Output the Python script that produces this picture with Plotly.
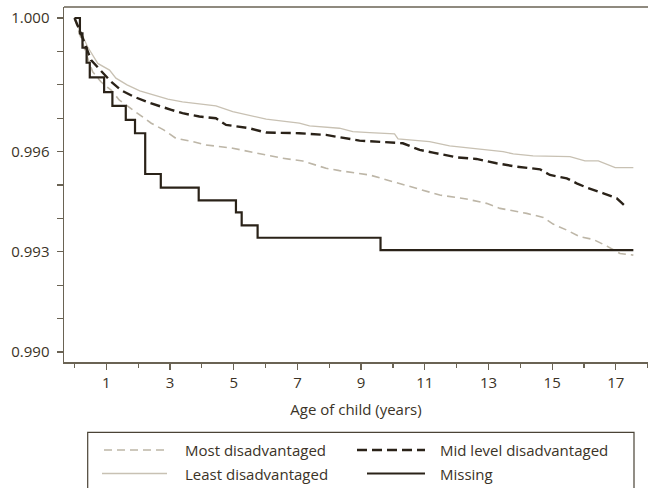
import plotly.graph_objects as go

# ---- data ----
least_age = [0, 0.2, 0.41, 0.73, 1.1, 1.3, 1.65, 2.05, 2.5, 2.93, 3.39, 4.44, 4.97, 6.02, 7.06, 7.38,
             8.32, 8.74, 9.27, 10.05, 10.16, 11.15, 11.78, 12.73, 13.46, 13.78, 14.4, 15.56, 16.03,
             16.45, 16.98, 17.55]
least_surv = [1.0, 0.99959, 0.99914, 0.99864, 0.99844, 0.9982, 0.998, 0.99782, 0.99769, 0.99757,
              0.99749, 0.99737, 0.9972, 0.99697, 0.99685, 0.99677, 0.9967, 0.9966, 0.99657, 0.99653,
              0.99638, 0.9963, 0.99617, 0.99607, 0.996, 0.99593, 0.99587, 0.99585, 0.99572, 0.99572,
              0.99552, 0.99552]

most_age = [0, 0.15, 0.36, 0.57, 0.83, 1.0, 1.15, 1.41, 1.78, 2.09, 2.41, 2.8, 3.18, 3.71, 4.13,
            4.97, 5.7, 6.54, 7.17, 7.9, 8.32, 9.27, 10.0, 10.84, 11.47, 12.31, 12.94, 13.36, 14.2,
            14.72, 15.03, 15.46, 15.87, 16.29, 16.72, 17.13, 17.55]
most_surv = [1.0, 0.99954, 0.99894, 0.99839, 0.99809, 0.99795, 0.99784, 0.99754, 0.99728, 0.99706,
             0.99685, 0.99665, 0.9964, 0.9963, 0.9962, 0.9961, 0.99597, 0.9958, 0.99572, 0.9955,
             0.99543, 0.9953, 0.9951, 0.99487, 0.9947, 0.99458, 0.99445, 0.9943, 0.99415, 0.99403,
             0.99383, 0.99365, 0.99345, 0.99337, 0.99317, 0.99295, 0.9929]

mid_age = [0, 0.2, 0.52, 0.85, 1.15, 1.46, 1.85, 2.32, 2.8, 3.04, 3.39, 3.92, 4.44, 4.76, 5.49,
           6.02, 7.06, 7.9, 8.32, 8.95, 10.31, 10.84, 11.26, 11.99, 12.62, 13.25, 13.88, 14.62,
           14.93, 15.46, 15.77, 16.09, 16.61, 17.03, 17.29]
mid_surv = [1.0, 0.99954, 0.99874, 0.99839, 0.99809, 0.99784, 0.99765, 0.99747, 0.99731, 0.99725,
            0.99715, 0.99705, 0.997, 0.9968, 0.9967, 0.99657, 0.99655, 0.9965, 0.99643, 0.99633,
            0.99625, 0.99605, 0.99597, 0.99583, 0.99578, 0.99565, 0.99555, 0.99547, 0.9953, 0.9952,
            0.99505, 0.99492, 0.99475, 0.9946, 0.99437]

missing_age = [0, 0.17, 0.25, 0.38, 0.48, 0.93, 1.19, 1.61, 1.90, 2.22, 2.71, 3.90, 5.07, 5.25,
               5.75, 9.61, 17.55]
missing_surv = [1.0, 0.99954, 0.99911, 0.99866, 0.99822, 0.99778, 0.99737, 0.99695, 0.99655,
                0.99533, 0.99492, 0.99454, 0.99418, 0.99379, 0.99342, 0.99305, 0.99305]

y_tickvals = [0.990, 0.991, 0.992, 0.993, 0.994, 0.995, 0.996, 0.997, 0.998, 0.999, 1.000]
y_ticktext = ["0.990", "", "", "0.993", "", "", "0.996", "", "", "", "1.000"]
x_major = [1, 3, 5, 7, 9, 11, 13, 15, 17]
x_minor = [0, 2, 4, 6, 8, 10, 12, 14, 16, 18]

TXT = "#3b3327"
AX = "#6a6354"
LIGHT_D = "#bdb6a7"
LIGHT_S = "#c8c1b3"
DARK = "#2a2218"
FONT = "Open Sans"

fig = go.Figure()
fig.add_trace(go.Scatter(x=least_age, y=least_surv, mode="lines", name="Least disadvantaged",
                         line=dict(color=LIGHT_S, width=1.3)))
fig.add_trace(go.Scatter(x=most_age, y=most_surv, mode="lines", name="Most disadvantaged",
                         line=dict(color=LIGHT_D, width=1.6, dash="8px,5px")))
fig.add_trace(go.Scatter(x=mid_age, y=mid_surv, mode="lines", name="Mid level disadvantaged",
                         line=dict(color=DARK, width=2.4, dash="10px,5px")))
fig.add_trace(go.Scatter(x=missing_age, y=missing_surv, mode="lines", name="Missing",
                         line=dict(color=DARK, width=2.2, shape="hv")))

W, H = 648, 488
L, R, T, B = 64, 0, 7, 126
pw, ph = W - L - R, H - T - B


def px(x):
    return (x - L) / pw


def py(y):
    return (H - B - y) / ph


shapes = [
    # top frame line of the plot area
    dict(type="line", xref="paper", yref="paper", x0=0, x1=1, y0=1, y1=1,
         line=dict(color=AX, width=1.5)),
    # legend frame
    dict(type="rect", xref="paper", yref="paper", x0=px(87.7), x1=px(634),
         y0=py(432.3), y1=py(540), line=dict(color="#4a4336", width=1.2),
         fillcolor="rgba(0,0,0,0)"),
]
annotations = []
legend_items = [
    ("Most disadvantaged", LIGHT_D, 1.6, "8px,5px", 104, 166, 183, 450),
    ("Least disadvantaged", LIGHT_S, 1.3, "solid", 102, 167, 183, 473.5),
    ("Mid level disadvantaged", DARK, 2.4, "10px,5px", 357, 425, 438, 450),
    ("Missing", DARK, 2.2, "solid", 367, 425, 438, 473.5),
]
for name, col, w, dash, sx0, sx1, tx, yy in legend_items:
    shapes.append(dict(type="line", xref="paper", yref="paper", x0=px(sx0), x1=px(sx1),
                       y0=py(yy), y1=py(yy), line=dict(color=col, width=w, dash=dash)))
    annotations.append(dict(text=name, xref="paper", yref="paper", x=px(tx), y=py(yy),
                            xanchor="left", yanchor="middle", showarrow=False,
                            font=dict(family=FONT, size=15, color=TXT)))

fig.update_layout(
    width=W, height=H,
    margin=dict(l=L, r=R, t=T, b=B, autoexpand=False),
    paper_bgcolor="white", plot_bgcolor="white",
    showlegend=False,
    font=dict(family=FONT, size=15, color=TXT),
    shapes=shapes, annotations=annotations,
    xaxis=dict(range=[-0.33, 18.01], tickmode="array", tickvals=x_major,
               ticktext=[str(v) for v in x_major],
               ticks="outside", ticklen=6, tickwidth=1.2, tickcolor=AX,
               showline=True, linecolor=AX, linewidth=1.5, mirror=False,
               showgrid=False, zeroline=False,
               minor=dict(tickvals=x_minor, ticks="outside", ticklen=4, tickwidth=1.2,
                          tickcolor=AX, showgrid=False),
               title=dict(text="Age of child (years)", standoff=14,
                          font=dict(family=FONT, size=15, color=TXT)),
               tickfont=dict(family=FONT, size=15, color=TXT)),
    yaxis=dict(range=[0.98970, 1.00033], tickmode="array", tickvals=y_tickvals,
               ticktext=y_ticktext, ticks="outside", ticklen=6, tickwidth=1.2, tickcolor=AX,
               showline=True, linecolor=AX, linewidth=1.5, mirror=False,
               showgrid=False, zeroline=False, ticklabelstandoff=4,
               tickfont=dict(family=FONT, size=15, color=TXT)),
)

fig.write_html(
    "out.html", config={"displayModeBar": False, "staticPlot": True},
    post_script="document.body.style.margin='0';document.body.style.overflow='hidden';"
)
